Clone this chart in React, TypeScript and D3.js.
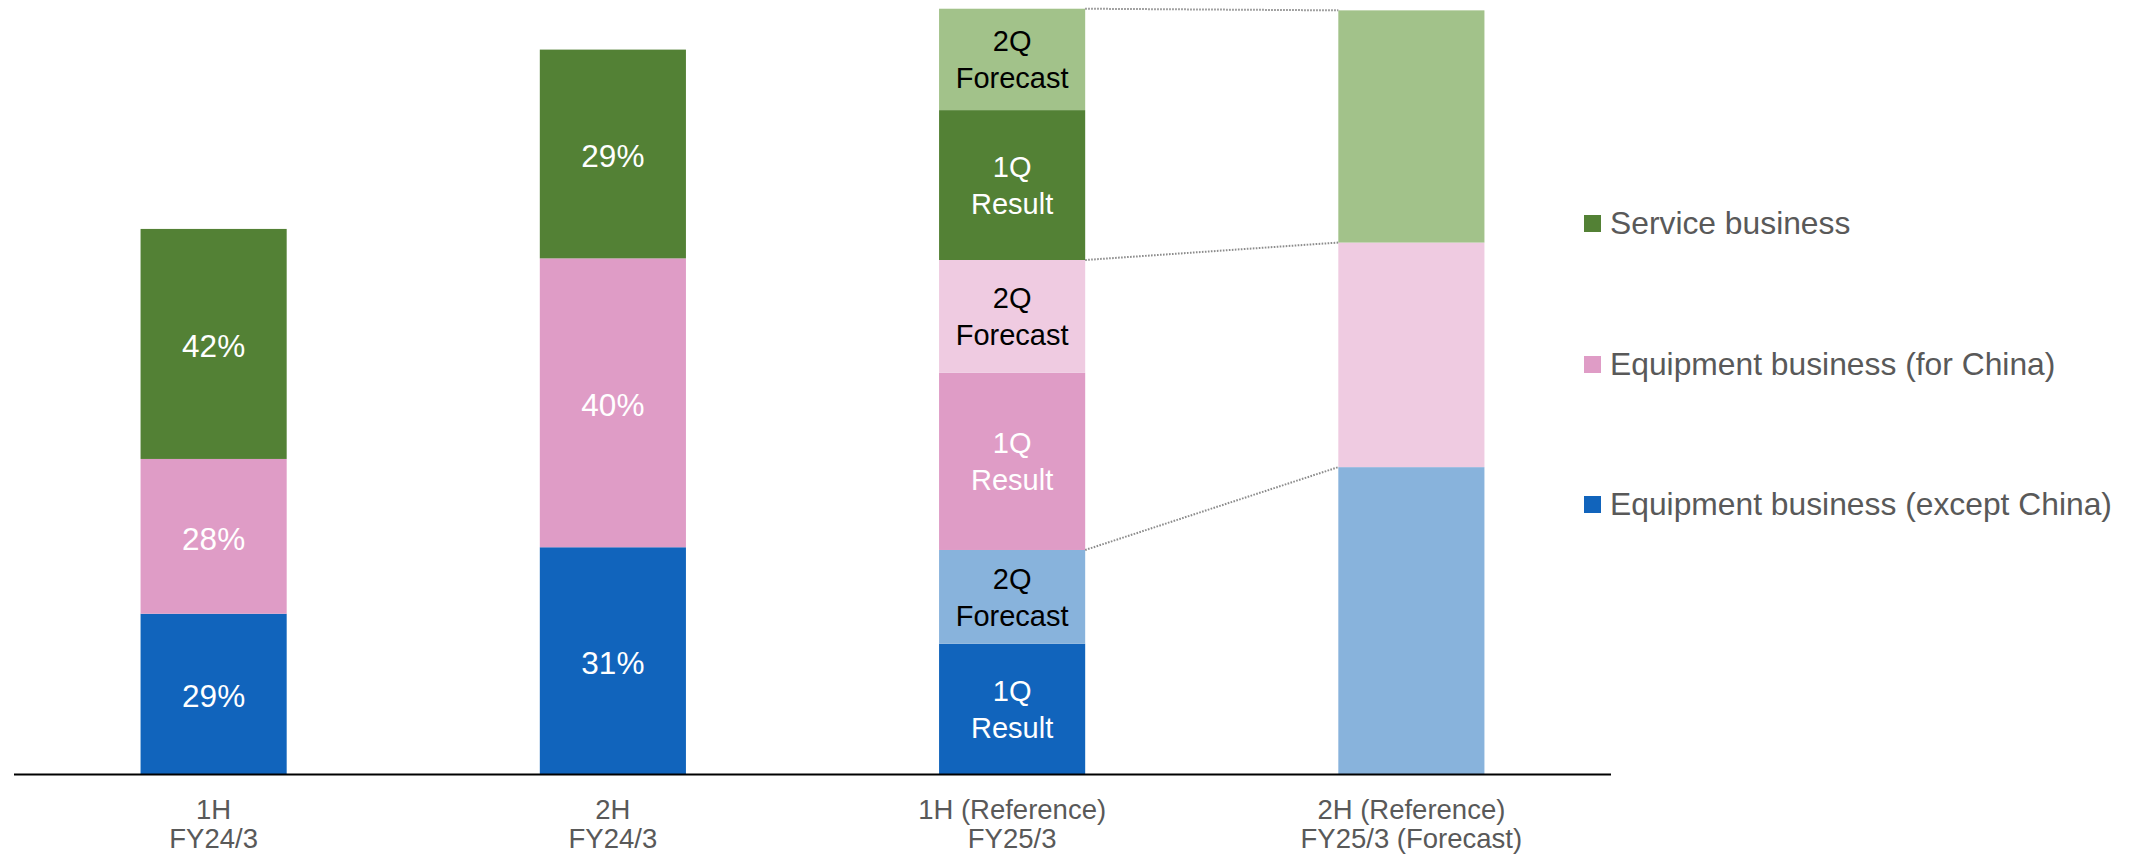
import React from "react";
import * as d3 from "d3";

// Category axis labels (two lines each)
const categoryTop = ["1H", "2H", "1H (Reference)", "2H (Reference)"];
const categoryBottom = ["FY24/3", "FY24/3", "FY25/3", "FY25/3 (Forecast)"];

// Series values per bar; bars split into quarters hold [1Q result, 2Q forecast]
const exceptChinaValues = [[29.4], [41.6], [23.9, 17.2], [56.3]];
const chinaValues = [[28.4], [53.0], [32.5, 20.7], [41.2]];
const serviceValues = [[42.2], [38.3], [27.5, 18.6], [42.6]];

// How each piece of a bar is shown: full half-year, 1Q result, 2Q forecast
const pieceKinds = [["full"], ["full"], ["result", "forecast"], ["forecast"]];
const pieceLabelsShown = [true, true, true, false];

const seriesNames = [
  "Equipment business (except China)",
  "Equipment business (for China)",
  "Service business",
];
const seriesValues = [exceptChinaValues, chinaValues, serviceValues];

const darkColors = ["#1164BC", "#DF9CC6", "#538135"];
const lightColors = ["#88B3DC", "#EFCBE1", "#A2C28A"];

const quarterLabels: Record<string, string[]> = {
  result: ["1Q", "Result"],
  forecast: ["2Q", "Forecast"],
};

const W = 2136;
const H = 854;
const FONT = "'Liberation Sans', Arial, Helvetica, sans-serif";

export default function App() {
  const x = d3
    .scaleBand<number>()
    .domain(d3.range(categoryTop.length))
    .range([14, 1611])
    .paddingInner(0.634)
    .paddingOuter(0.317);
  const y = d3.scaleLinear().domain([0, 142]).range([774, 0]);
  const bw = x.bandwidth();

  type Piece = {
    bar: number;
    series: number;
    kind: string;
    y0: number;
    y1: number;
    label: string[] | null;
    textColor: string;
  };

  const pieces: Piece[] = [];
  // cumulative boundaries for each bar: [after series0, after series1, after series2]
  const boundaries: number[][] = [];
  categoryTop.forEach((_, b) => {
    let acc = 0;
    const barTotal = d3.sum(seriesValues.map((s) => d3.sum(s[b])));
    const bnd: number[] = [];
    seriesValues.forEach((s, si) => {
      const seriesTotal = d3.sum(s[b]);
      s[b].forEach((v, pi) => {
        const kind = pieceKinds[b][pi];
        let label: string[] | null = null;
        let textColor = "#FFFFFF";
        if (pieceLabelsShown[b]) {
          if (kind === "full") {
            label = [`${Math.round((seriesTotal / barTotal) * 100)}%`];
          } else {
            label = quarterLabels[kind];
            textColor = kind === "forecast" ? "#000000" : "#FFFFFF";
          }
        }
        pieces.push({ bar: b, series: si, kind, y0: acc, y1: acc + v, label, textColor });
        acc += v;
      });
      bnd.push(acc);
    });
    boundaries.push(bnd);
  });

  // dotted connectors from the quarterly bar to the forecast bar
  const fromBar = 2;
  const toBar = 3;
  const connectors = [0, 1, 2].map((i) => ({
    x1: (x(fromBar) as number) + bw,
    y1: y(boundaries[fromBar][i]),
    x2: x(toBar) as number,
    y2: y(boundaries[toBar][i]),
  }));

  const legendY = [504.5, 364.5, 223.5];

  return (
    <svg
      width={W}
      height={H}
      style={{ position: "absolute", left: 0, top: 0, background: "#fff" }}
      fontFamily={FONT}
    >
      {pieces.map((p, i) => {
        const x0 = x(p.bar) as number;
        const top = y(p.y1);
        const bottom = y(p.y0);
        const fill = p.kind === "forecast" ? lightColors[p.series] : darkColors[p.series];
        const cx = x0 + bw / 2;
        const cy = (top + bottom) / 2;
        return (
          <g key={i}>
            <rect x={x0} y={top} width={bw} height={bottom - top} fill={fill} />
            {p.label && p.label.length === 1 && (
              <text
                x={cx}
                y={cy + 13.5}
                textAnchor="middle"
                fontSize={31.5}
                fill={p.textColor}
              >
                {p.label[0]}
              </text>
            )}
            {p.label &&
              p.label.length === 2 &&
              p.label.map((t, li) => (
                <text
                  key={li}
                  x={cx}
                  y={cy + (li === 0 ? -18.5 : 18.5) + 10.4}
                  textAnchor="middle"
                  fontSize={29}
                  fill={p.textColor}
                >
                  {t}
                </text>
              ))}
          </g>
        );
      })}

      {connectors.map((c, i) => (
        <line
          key={i}
          x1={c.x1}
          y1={c.y1}
          x2={c.x2}
          y2={c.y2}
          stroke="#8C8C8C"
          strokeWidth={2}
          strokeDasharray="1.6 1.4"
        />
      ))}

      {/* category axis */}
      <line x1={14} x2={1611} y1={774.5} y2={774.5} stroke="#000" strokeWidth={2.2} />
      {categoryTop.map((t, i) => {
        const cx = (x(i) as number) + bw / 2;
        return (
          <g key={i} fill="#595959" fontSize={27.5}>
            <text x={cx} y={818.5} textAnchor="middle">
              {t}
            </text>
            <text x={cx} y={848} textAnchor="middle">
              {categoryBottom[i]}
            </text>
          </g>
        );
      })}

      {/* legend */}
      {seriesNames.map((name, i) => (
        <g key={name}>
          <rect x={1584} y={legendY[i] - 8.5} width={17} height={17} fill={darkColors[i]} />
          <text x={1610} y={legendY[i] + 10.8} fontSize={31.8} fill="#595959">
            {name}
          </text>
        </g>
      ))}
    </svg>
  );
}
